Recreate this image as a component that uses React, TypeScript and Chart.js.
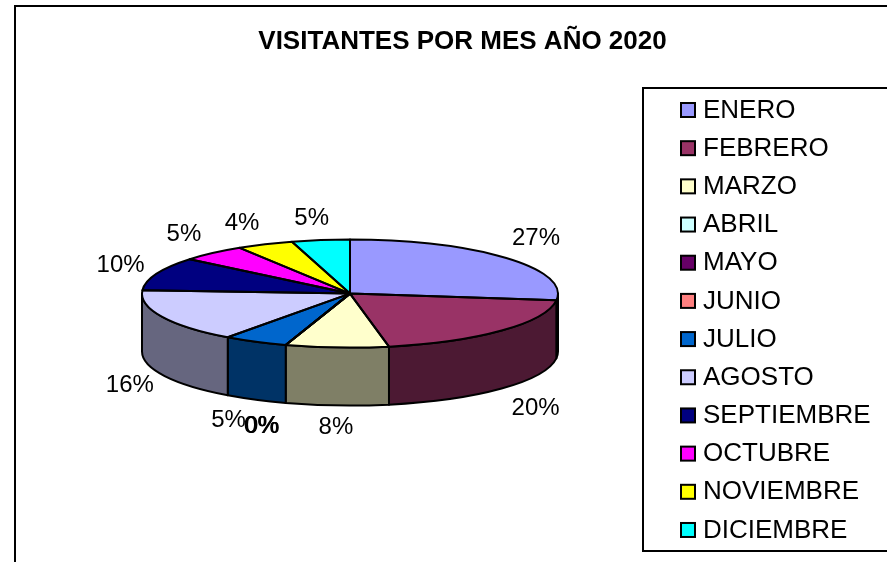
import React, { useEffect, useRef } from "react";
import { Chart, registerables } from "chart.js";

Chart.register(...registerables);

const titleText = "VISITANTES POR MES AÑO 2020";
const months = ["ENERO", "FEBRERO", "MARZO", "ABRIL", "MAYO", "JUNIO", "JULIO", "AGOSTO", "SEPTIEMBRE", "OCTUBRE", "NOVIEMBRE", "DICIEMBRE"];
const shares = [27, 20, 8, 0, 0, 0, 5, 16, 10, 5.1, 4.4, 4.5];
const sliceColors = ["#9999FF", "#993366", "#FFFFCC", "#CCFFFF", "#660066", "#FF8080", "#0066CC", "#CCCCFF", "#000080", "#FF00FF", "#FFFF00", "#00FFFF"];

// Appearance of the tilted pie
const FONT = '"Liberation Sans", Arial, sans-serif';
const TILT = 54 / 208;
const DEPTH = 58;
const LABEL_OFFSETS = [[30, -20], [34, 20], [-1, 22], [-24.6, 23], [-24, 23], [-23.4, 23], [-27, 21], [-32, 11], [-36, -8], [-29, -19], [-23, -21], [-9, -22]];
const darken = (hex: string) => {
  const n = parseInt(hex.slice(1), 16);
  return `rgb(${(n >> 16) >> 1},${((n >> 8) & 255) >> 1},${(n & 255) >> 1})`;
};

const tiltedPie = {
  id: "tiltedPie",
  afterLayout(chart: any) {
    // the title is centred on the whole chart frame, not on the pie
    chart.titleBlock.left = 58;
    chart.titleBlock.right = 867;
    chart.titleBlock.width = 809;
  },
  beforeDatasetsDraw(chart: any) {
    const ctx = chart.ctx;
    const arcs = chart.getDatasetMeta(0).data;
    ctx.save();
    ctx.lineWidth = 2;
    ctx.strokeStyle = "#000";
    ctx.lineJoin = "round";
    arcs.forEach((arc: any, i: number) => {
      const a0 = Math.max(arc.startAngle, 0);
      const a1 = Math.min(arc.endAngle, Math.PI);
      if (a1 <= a0) return;
      const rx = arc.outerRadius;
      const ry = rx * TILT;
      ctx.beginPath();
      ctx.ellipse(arc.x, arc.y, rx, ry, 0, a0, a1);
      ctx.ellipse(arc.x, arc.y + DEPTH, rx, ry, 0, a1, a0, true);
      ctx.closePath();
      ctx.fillStyle = darken(sliceColors[i]);
      ctx.fill();
      ctx.stroke();
    });
    ctx.restore();
    const first = arcs[0];
    ctx.save();
    ctx.translate(first.x, first.y);
    ctx.scale(1, TILT);
    ctx.translate(-first.x, -first.y);
  },
  afterDatasetsDraw(chart: any) {
    const ctx = chart.ctx;
    ctx.restore();
    const arcs = chart.getDatasetMeta(0).data;
    ctx.save();
    ctx.lineWidth = 2;
    ctx.strokeStyle = "#000";
    ctx.lineJoin = "round";
    arcs.forEach((arc: any) => {
      const rx = arc.outerRadius;
      ctx.beginPath();
      ctx.moveTo(arc.x, arc.y);
      ctx.ellipse(arc.x, arc.y, rx, rx * TILT, 0, arc.startAngle, arc.endAngle);
      ctx.closePath();
      ctx.stroke();
    });
    // percentage labels, placed from each slice's own angle
    const total = shares.reduce((a, b) => a + b, 0);
    ctx.font = `24px ${FONT}`;
    ctx.fillStyle = "#000";
    ctx.textAlign = "center";
    ctx.textBaseline = "middle";
    arcs.forEach((arc: any, i: number) => {
      const mid = (arc.startAngle + arc.endAngle) / 2;
      const rx = arc.outerRadius;
      const ex = arc.x + Math.cos(mid) * rx;
      const ey = arc.y + Math.sin(mid) * rx * TILT + (Math.sin(mid) > 0 ? DEPTH : 0);
      const [ox, oy] = LABEL_OFFSETS[i];
      ctx.fillText(`${Math.round((shares[i] / total) * 100)}%`, ex + ox, ey + oy);
    });
    ctx.restore();
  },
  afterDraw(chart: any) {
    const ctx = chart.ctx;
    ctx.save();
    ctx.strokeStyle = "#000";
    ctx.lineWidth = 2;
    // chart frame and legend frame; both run past the cropped page edge
    ctx.strokeRect(15, 6, 1000, 700);
    ctx.strokeRect(643, 88, 400, 463);
    // legend
    ctx.font = `26px ${FONT}`;
    ctx.textBaseline = "middle";
    ctx.textAlign = "left";
    months.forEach((m, i) => {
      const y = 110 + i * 38.18;
      ctx.fillStyle = sliceColors[i];
      ctx.fillRect(681, y - 7, 14, 14);
      ctx.strokeRect(681, y - 7, 14, 14);
      ctx.fillStyle = "#000";
      ctx.fillText(m, 703, y + 0.5);
    });
    ctx.restore();
  },
};

export default function App() {
  const ref = useRef<HTMLCanvasElement>(null);
  useEffect(() => {
    document.body.style.margin = "0";
    const chart = new Chart(ref.current as HTMLCanvasElement, {
      type: "pie",
      data: {
        labels: months,
        datasets: [{ data: shares, backgroundColor: sliceColors, borderWidth: 0 }],
      },
      options: {
        responsive: false,
        animation: false,
        layout: { padding: { left: 142, right: 329, top: 0, bottom: 60 } },
        plugins: {
          legend: { display: false },
          tooltip: { enabled: false },
          title: {
            display: true,
            text: titleText,
            color: "#000",
            font: { family: FONT, size: 26, weight: "bold" },
            padding: { top: 26, bottom: 28 },
          },
        },
      },
      plugins: [tiltedPie],
    } as any);
    return () => chart.destroy();
  }, []);
  return (
    <div style={{ width: 887, height: 562, overflow: "hidden", background: "#fff" }}>
      <canvas ref={ref} width={887} height={562} style={{ display: "block" }} />
    </div>
  );
}
